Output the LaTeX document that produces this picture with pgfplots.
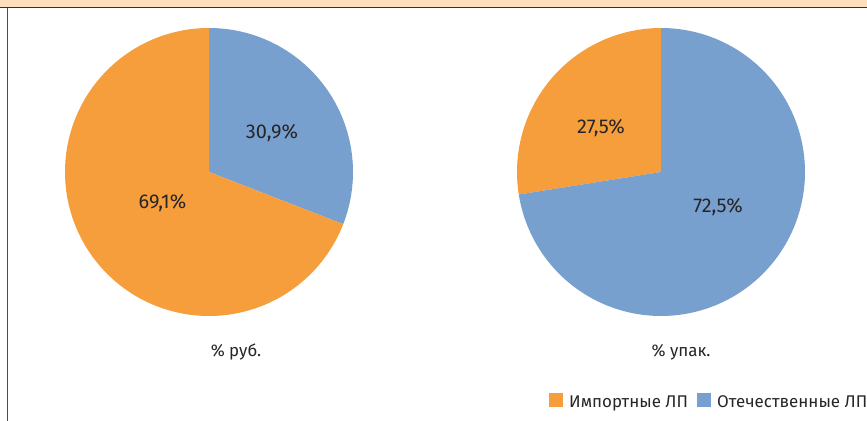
\documentclass[border=0pt]{standalone}
\usepackage{pgfplots}
\pgfplotsset{compat=1.18}
\usepackage{fontspec}
\setmainfont{Fira Sans}
\definecolor{imp}{HTML}{F79E3C}
\definecolor{dom}{HTML}{78A0CE}
\definecolor{band}{HTML}{FDDFBE}
\definecolor{txt}{HTML}{262626}
% data (percent): Importnye, Otechestvennye
\def\rubImp{69.1}\def\rubDom{30.9}
\def\upkImp{27.5}\def\upkDom{72.5}
\begin{document}
\begin{tikzpicture}[x=1bp,y=1bp]
\clip (0bp,0bp) rectangle (867bp,421bp);
\fill[white] (0bp,0bp) rectangle (867bp,421bp);
\fill[band] (0bp,413bp) rectangle (867bp,421bp);
\draw[line width=1.5bp, black!80] (0bp,413.5bp) -- (867bp,413.5bp);
\draw[line width=1.5bp, black!70] (7.5bp,0bp) -- (7.5bp,413bp);
% left pie
\pgfmathsetmacro\aL{90-3.6*\rubDom}
\begin{axis}[at={(65bp,105bp)},anchor=south west,scale only axis,x=144bp,y=144bp,
  xmin=-1,xmax=1,ymin=-1,ymax=1,hide axis,clip=false]
\addplot[draw=none,fill=dom,domain=\aL:90,samples=90,variable=\t] ({cos(\t)},{sin(\t)}) -- (axis cs:0,0) -- cycle;
\addplot[draw=none,fill=imp,domain=-270:\aL,samples=180,variable=\t] ({cos(\t)},{sin(\t)}) -- (axis cs:0,0) -- cycle;
\node[txt,anchor=base,inner sep=0,font=\fontsize{20}{24}\selectfont] at (axis cs:{(272-209)/144},{(172-139)/144}) {30,9\%};
\node[txt,anchor=base,inner sep=0,font=\fontsize{20}{24}\selectfont] at (axis cs:{(162.5-209)/144},{(172-209)/144}) {69,1\%};
\end{axis}
% right pie
\pgfmathsetmacro\aR{90+3.6*\upkImp}
\begin{axis}[at={(517bp,105bp)},anchor=south west,scale only axis,x=144bp,y=144bp,
  xmin=-1,xmax=1,ymin=-1,ymax=1,hide axis,clip=false]
\addplot[draw=none,fill=imp,domain=90:\aR,samples=90,variable=\t] ({cos(\t)},{sin(\t)}) -- (axis cs:0,0) -- cycle;
\addplot[draw=none,fill=dom,domain={\aR-360}:90,samples=180,variable=\t] ({cos(\t)},{sin(\t)}) -- (axis cs:0,0) -- cycle;
\node[txt,anchor=base,inner sep=0,font=\fontsize{20}{24}\selectfont] at (axis cs:{(601-661)/144},{(172-134)/144}) {27,5\%};
\node[txt,anchor=base,inner sep=0,font=\fontsize{20}{24}\selectfont] at (axis cs:{(718-661)/144},{(172-213)/144}) {72,5\%};
\end{axis}
\node[txt,anchor=base,inner sep=0,font=\fontsize{17}{20}\selectfont] at (236bp,64bp) {\% руб.};
\node[txt,anchor=base,inner sep=0,font=\fontsize{17}{20}\selectfont] at (681bp,64bp) {\% упак.};
% legend
\fill[imp] (549bp,14bp) rectangle (563bp,28bp);
\node[txt,anchor=base west,inner sep=0,font=\fontsize{17}{20}\selectfont] at (569bp,14bp) {Импортные ЛП};
\fill[dom] (697bp,14bp) rectangle (711bp,28bp);
\node[txt,anchor=base west,inner sep=0,font=\fontsize{17}{20}\selectfont] at (717bp,14bp) {Отечественные ЛП};
\end{tikzpicture}
\end{document}
